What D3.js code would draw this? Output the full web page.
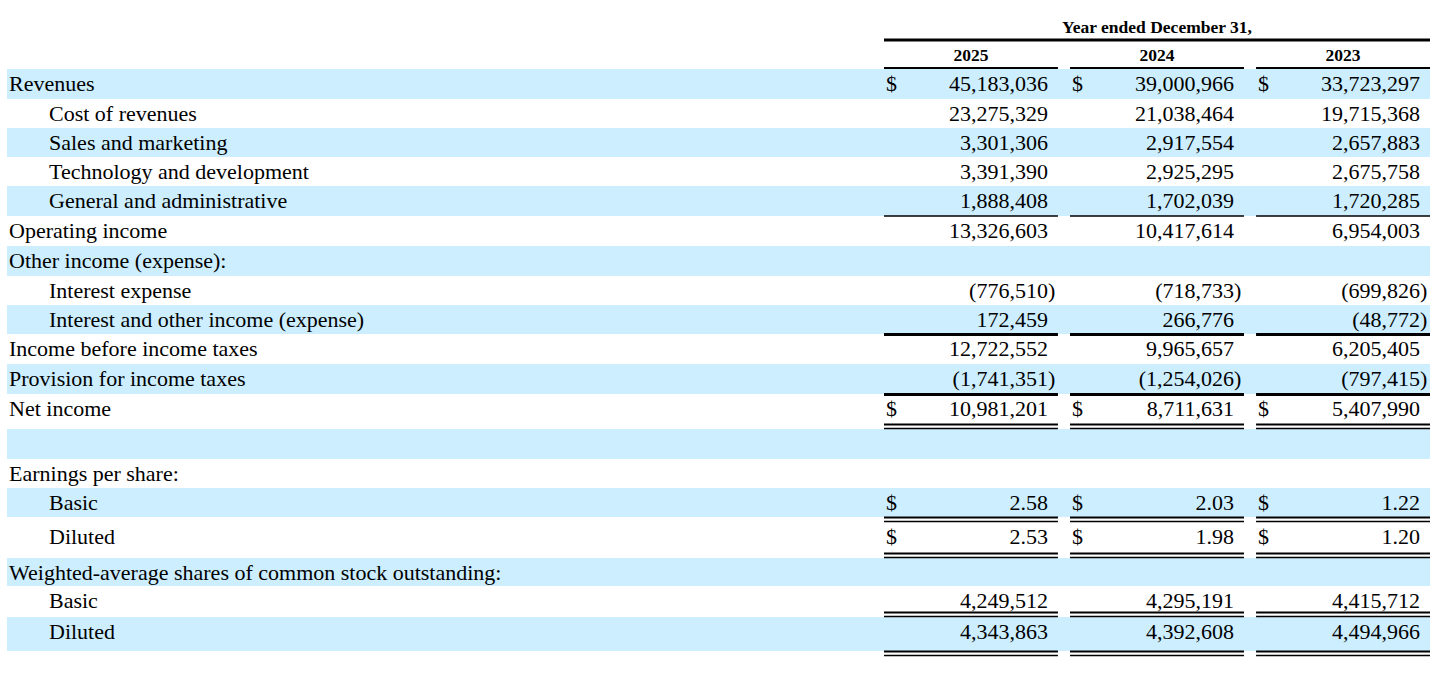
<!DOCTYPE html>
<html>
<head>
<meta charset="utf-8">
<script src="https://cdn.jsdelivr.net/npm/d3@7"></script>
<style>
  body { margin: 0; background: #fff; }
  svg text { font-family: "Liberation Serif", "Times New Roman", serif; fill: #000; }
</style>
</head>
<body>
<div id="statement"></div>
<script>
// Data
const headerTitle = "Year ended December 31,";
const years = ["2025", "2024", "2023"];

const rowLabels = [
    "Revenues",
    "Cost of revenues",
    "Sales and marketing",
    "Technology and development",
    "General and administrative",
    "Operating income",
    "Other income (expense):",
    "Interest expense",
    "Interest and other income (expense)",
    "Income before income taxes",
    "Provision for income taxes",
    "Net income",
    "",
    "Earnings per share:",
    "Basic",
    "Diluted",
    "Weighted-average shares of common stock outstanding:",
    "Basic",
    "Diluted"
];
// 0 = top level, 1 = indented line item
const labelLevel = [0, 1, 1, 1, 1, 0, 0, 1, 1, 0, 0, 0, 0, 0, 1, 1, 0, 1, 1];

const values2025 = [45183036, 23275329, 3301306, 3391390, 1888408, 13326603, null, -776510, 172459, 12722552, -1741351, 10981201, null, null, 2.58, 2.53, null, 4249512, 4343863];
const values2024 = [39000966, 21038464, 2917554, 2925295, 1702039, 10417614, null, -718733, 266776, 9965657, -1254026, 8711631, null, null, 2.03, 1.98, null, 4295191, 4392608];
const values2023 = [33723297, 19715368, 2657883, 2675758, 1720285, 6954003, null, -699826, -48772, 6205405, -797415, 5407990, null, null, 1.22, 1.20, null, 4415712, 4494966];

const currencyRows = [0, 11, 14, 15];   // rows with a $ sign
const perShareRows = [14, 15];          // two decimals

// Layout (row heights and rule under each row)
const rowHeights = [30, 29, 29, 29, 30, 30, 30, 29, 29, 30, 30, 35, 30, 29, 34, 36, 28, 31, 39];
const rowRules = ["", "", "", "", "single", "", "", "", "thick", "", "thick", "double", "", "", "double", "double", "", "double", "double"];

const width = 1456, height = 690;
const tableTop = 69;
const fontSize = 22;
const blue = "#cceeff";

const valuesByYear = { "2025": values2025, "2024": values2024, "2023": values2023 };

let acc = tableTop;
const rows = rowLabels.map((label, i) => {
    const top = acc;
    acc += rowHeights[i];
    return { i, label, level: labelLevel[i], top, h: rowHeights[i], rule: rowRules[i] };
});

const x = d3.scaleBand()
    .domain(years)
    .range([884, 1430])
    .paddingInner(0.065);

const fmtInt = d3.format(",");
const fmtEps = d3.format(".2f");
function fmt(v, i) {
    const f = perShareRows.includes(i) ? fmtEps : fmtInt;
    return v < 0 ? "(" + f(-v) + ")" : f(v);
}

const svg = d3.select("#statement")
    .append("svg")
    .attr("width", width)
    .attr("height", height);

// Shaded bands
svg.selectAll(".band")
    .data(rows.filter(r => r.i % 2 === 0))
    .enter().append("rect")
    .attr("class", "band")
    .attr("x", 7)
    .attr("y", r => r.top)
    .attr("width", 1430 - 7)
    .attr("height", r => r.rule === "double" ? r.h - 5 : r.h)
    .attr("fill", blue);

// Header
svg.append("text")
    .attr("x", (x.range()[0] + x.range()[1]) / 2)
    .attr("y", 33)
    .attr("text-anchor", "middle")
    .style("font-size", "17.5px")
    .style("font-weight", "bold")
    .text(headerTitle);

svg.append("line")
    .attr("x1", x.range()[0]).attr("x2", x.range()[1])
    .attr("y1", 40).attr("y2", 40)
    .attr("stroke", "#000").attr("stroke-width", 3);

svg.selectAll(".year")
    .data(years)
    .enter().append("text")
    .attr("class", "year")
    .attr("x", d => x(d) + x.bandwidth() / 2)
    .attr("y", 61)
    .attr("text-anchor", "middle")
    .style("font-size", "17.5px")
    .style("font-weight", "bold")
    .text(d => d);

svg.selectAll(".yearRule")
    .data(years)
    .enter().append("line")
    .attr("class", "yearRule")
    .attr("x1", d => x(d)).attr("x2", d => x(d) + x.bandwidth())
    .attr("y1", 68).attr("y2", 68)
    .attr("stroke", "#000").attr("stroke-width", 2);

// Row labels
svg.selectAll(".label")
    .data(rows)
    .enter().append("text")
    .attr("class", "label")
    .attr("x", r => 9 + r.level * 40)
    .attr("y", r => r.top + 21.5)
    .style("font-size", fontSize + "px")
    .text(r => r.label);

// Values and $ signs
const parenW = 0.333 * fontSize;
years.forEach(year => {
    const vals = valuesByYear[year];
    const cells = rows.filter(r => vals[r.i] !== null);
    const g = svg.append("g").attr("class", "col-" + year);

    g.selectAll(".val")
        .data(cells)
        .enter().append("text")
        .attr("class", "val")
        .attr("x", r => x(year) + x.bandwidth() - 10 + (vals[r.i] < 0 ? parenW : 0))
        .attr("y", r => r.top + 21.5)
        .attr("text-anchor", "end")
        .style("font-size", fontSize + "px")
        .text(r => fmt(vals[r.i], r.i));

    g.selectAll(".cur")
        .data(cells.filter(r => currencyRows.includes(r.i)))
        .enter().append("text")
        .attr("class", "cur")
        .attr("x", x(year) + 2)
        .attr("y", r => r.top + 21.5)
        .style("font-size", fontSize + "px")
        .text("$");

    // Rules under rows
    const ruled = rows.filter(r => r.rule !== "");
    ruled.forEach(r => {
        const bottom = r.top + r.h;
        let lines = [];
        if (r.rule === "single") lines = [{ y: bottom, w: 1.6 }];
        if (r.rule === "thick") lines = [{ y: bottom + 0.5, w: 3 }];
        if (r.rule === "double") lines = [{ y: bottom - 4.5, w: 2 }, { y: bottom - 0.5, w: 1.5 }];
        g.selectAll(null)
            .data(lines)
            .enter().append("line")
            .attr("x1", x(year)).attr("x2", x(year) + x.bandwidth())
            .attr("y1", d => d.y).attr("y2", d => d.y)
            .attr("stroke", "#000")
            .attr("stroke-width", d => d.w);
    });
});
</script>
</body>
</html>
